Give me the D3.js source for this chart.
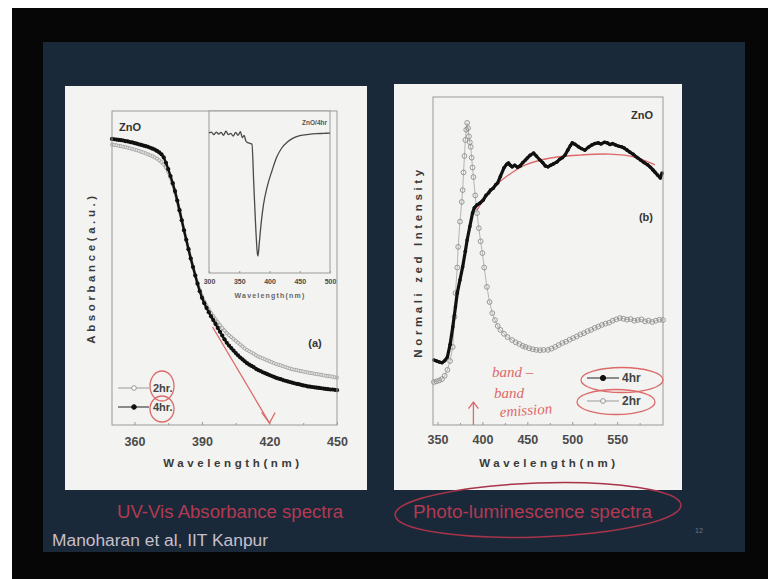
<!DOCTYPE html>
<html lang="en">
<head>
<meta charset="utf-8">
<style>
  body { margin: 0; background: #000; }
  svg { display: block; font-family: "Liberation Sans", Arial, sans-serif; }
  .frame { fill: none; stroke: #9a9a9a; stroke-width: 1; }
  .axis path { display: none; }
  .axis line { stroke: #9a9a9a; }
  .axis text { fill: #4a4a4a; font-weight: bold; font-family: "Liberation Sans", Arial, sans-serif; }
  .ttl { fill: #3a3a3a; font-weight: bold; letter-spacing: 3.6px; font-size: 11.5px; }
  .ink { fill: none; stroke: #dc6a6a; stroke-width: 1.3; }
  .hand { fill: #dc6a6a; font-family: "Liberation Serif", serif; font-style: italic; font-size: 15px; }
</style>
</head>
<body>
<svg width="768" height="579"></svg>
<script src="https://cdn.jsdelivr.net/npm/d3@7"></script>
<script>
// ---- panel (a): UV-Vis absorbance, 1 nm grid ----
const absWl = d3.range(350, 451);
const abs4hr = [
  .911,.910,.909,.908,.907,.906,.904,.903,.901,.900,
  .898,.896,.894,.892,.890,.888,.886,.883,.880,.877,
  .873,.868,.862,.852,.835,.815,.793,.770,.745,.715,
  .684,.652,.620,.590,.560,.530,.503,.476,.450,.426,
  .405,.388,.373,.359,.346,.334,.322,.309,.297,.285,
  .273,.262,.253,.245,.237,.229,.222,.215,.209,.203,
  .197,.192,.188,.184,.179,.175,.172,.168,.165,.162,
  .159,.156,.153,.150,.148,.146,.143,.141,.139,.137,
  .135,.133,.131,.130,.128,.126,.125,.123,.122,.121,
  .120,.119,.118,.117,.116,.115,.114,.113,.113,.112,
  .111];
const abs2hr = [
  .893,.892,.891,.889,.888,.886,.885,.883,.881,.879,
  .877,.875,.873,.870,.868,.865,.862,.859,.856,.852,
  .848,.843,.837,.830,.820,.806,.788,.766,.741,.713,
  .683,.652,.621,.590,.560,.531,.504,.478,.453,.430,
  .410,.394,.380,.368,.357,.347,.337,.327,.318,.309,
  .301,.293,.286,.280,.274,.268,.262,.256,.250,.244,
  .239,.235,.231,.227,.222,.218,.215,.212,.209,.206,
  .203,.200,.197,.194,.192,.190,.187,.185,.182,.180,
  .178,.176,.175,.173,.172,.170,.169,.167,.166,.165,
  .163,.162,.161,.160,.158,.157,.156,.155,.154,.152,
  .151];
const absTicks = [360, 390, 420, 450];

// inset: ZnO/4hr
const insetWl = [300,304,308,312,316,320,324,328,332,336,340,344,348,352,355,358,361,364,368,371,
  374,377,380,381,383,386,390,396,404,412,420,430,439,450,465,478,490,500];
const insetVal = [.865,.87,.855,.87,.858,.868,.85,.875,.855,.862,.845,.868,.85,.872,.835,.85,.815,.805,.80,.795,
  .55,.30,.12,.105,.18,.30,.42,.53,.63,.716,.77,.81,.833,.848,.856,.86,.862,.864];
const insetTicks = [300, 350, 400, 450, 500];

// ---- panel (b): photoluminescence ----
const pl4Wl = [346,349,352,355,358,361,364,367,370,372,375,378,381,383,386,389,391,394,397,401,
  404,407,409,412,415,417,420,424,427,429,431,433,436,439,442,445,448,450,453,457,
  460,464,467,470,473,476,479,483,486,489,492,495,498,500,503,507,510,514,518,522,
  525,529,532,536,539,542,545,548,552,555,558,561,564,568,571,573,576,580,584,587,
  590,592,595,598,600];
const pl4Val = [.198,.195,.192,.190,.196,.207,.245,.299,.360,.402,.442,.482,.530,.564,.605,.646,.662,.671,.676,.686,
  .700,.708,.716,.722,.733,.738,.758,.784,.795,.799,.792,.787,.792,.786,.790,.800,.808,.814,.822,.829,
  .820,.808,.800,.790,.787,.792,.796,.802,.810,.815,.823,.838,.852,.860,.856,.848,.843,.838,.847,.854,
  .858,.860,.857,.862,.860,.855,.858,.854,.850,.848,.844,.838,.832,.825,.818,.814,.808,.800,.793,.786,
  .777,.771,.762,.753,.768];
const pl2Wl = [346,349,352,355,358,361,364,367,369,370,372,373,375,377,378,379,380,381,382,383,
  384,385,386,387,388,389,390,392,394,396,398,400,402,405,408,411,414,417,420,424,
  428,433,437,441,445,448,452,456,460,464,468,473,477,481,485,489,493,497,501,505,
  509,513,517,521,525,529,533,537,541,545,549,553,557,561,565,569,573,577,581,585,
  589,593,597,601];
const pl2Val = [.131,.133,.136,.140,.150,.168,.195,.238,.330,.402,.480,.543,.620,.680,.716,.770,.820,.869,.900,.921,
  .905,.880,.862,.848,.815,.785,.756,.700,.646,.600,.560,.524,.480,.421,.375,.341,.320,.302,.290,.278,
  .268,.259,.252,.247,.241,.238,.234,.231,.229,.228,.229,.229,.233,.238,.244,.250,.254,.260,.265,.270,
  .276,.280,.286,.290,.296,.300,.305,.309,.312,.318,.322,.326,.324,.321,.323,.318,.320,.322,.316,.318,
  .314,.318,.321,.320];
const plTicks = [350, 400, 450, 500, 550];

const svg = d3.select("svg");

// slide background
svg.append("rect").attr("width", 768).attr("height", 579).attr("fill", "#fff");
svg.append("rect").attr("x", 12).attr("y", 8).attr("width", 756).attr("height", 571).attr("fill", "#060606");
svg.append("rect").attr("x", 43).attr("y", 42).attr("width", 702).attr("height", 510).attr("fill", "#1a2939");
svg.append("rect").attr("x", 65).attr("y", 86).attr("width", 302).attr("height", 404).attr("fill", "#f3f3f1");
svg.append("rect").attr("x", 394).attr("y", 84).attr("width", 288).attr("height", 406).attr("fill", "#f3f3f1");

// ================= panel (a) =================
const xA = d3.scaleLinear().domain([350, 450]).range([112, 337]);
const yA = d3.scaleLinear().domain([0, 1]).range([425, 111]);
const gA = svg.append("g");

const lineA = d3.line().x((d, i) => xA(absWl[i])).y(d => yA(d));

gA.append("path").datum(abs2hr).attr("d", lineA)
  .attr("fill", "none").attr("stroke", "#a8a8a8").attr("stroke-width", 3);
gA.selectAll(".m2").data(abs2hr).join("circle")
  .attr("cx", (d, i) => xA(absWl[i])).attr("cy", d => yA(d)).attr("r", 1.6)
  .attr("fill", "#e4e4e4").attr("stroke", "#9c9c9c").attr("stroke-width", 0.7);

gA.append("path").datum(abs4hr).attr("d", lineA)
  .attr("fill", "none").attr("stroke", "#111").attr("stroke-width", 2.4);
gA.selectAll(".m4").data(abs4hr).join("circle")
  .attr("cx", (d, i) => xA(absWl[i])).attr("cy", d => yA(d)).attr("r", 2.1)
  .attr("fill", "#111");

gA.append("rect").attr("class", "frame")
  .attr("x", 112).attr("y", 111).attr("width", 225).attr("height", 314);
gA.append("g").attr("class", "axis").attr("transform", "translate(0,425)")
  .call(d3.axisBottom(xA).tickValues(absTicks).tickSizeInner(-3).tickSizeOuter(0).tickPadding(12))
  .call(g => g.selectAll("text").attr("font-size", 12.5));
gA.append("g").attr("class", "axis").attr("transform", "translate(0,425)")
  .call(d3.axisBottom(xA).tickValues([375, 405, 435]).tickSizeInner(-2).tickSizeOuter(0).tickFormat(""));

gA.append("text").attr("class", "ttl").attr("x", 233).attr("y", 467)
  .attr("text-anchor", "middle").text("Wavelength(nm)");
gA.append("text").attr("class", "ttl").attr("transform", "translate(95,268) rotate(-90)")
  .attr("text-anchor", "middle").text("Absorbance(a.u.)");
gA.append("text").attr("x", 119).attr("y", 131).attr("font-weight", "bold")
  .attr("font-size", 11).attr("fill", "#333").text("ZnO");
gA.append("text").attr("x", 315).attr("y", 347).attr("font-weight", "bold")
  .attr("font-size", 11).attr("fill", "#333").attr("text-anchor", "middle").text("(a)");

// legend (a)
const legA = [{ name: "2hr.", y: 388, open: true }, { name: "4hr.", y: 407, open: false }];
const lg = gA.selectAll(".leg").data(legA).join("g").attr("transform", d => `translate(0,${d.y})`);
lg.append("line").attr("x1", 118).attr("x2", 149)
  .attr("stroke", d => d.open ? "#999" : "#222").attr("stroke-width", 1);
lg.append("circle").attr("cx", 134).attr("r", 2.3)
  .attr("fill", d => d.open ? "#fff" : "#111").attr("stroke", d => d.open ? "#999" : "#111");
lg.append("text").attr("x", 153).attr("y", 4).attr("font-size", 11).attr("font-weight", "bold")
  .attr("fill", "#444").text(d => d.name);

// inset
const xI = d3.scaleLinear().domain([300, 500]).range([209, 330]);
const yI = d3.scaleLinear().domain([0, 1]).range([273, 111]);
const gI = svg.append("g");
gI.append("rect").attr("x", 209).attr("y", 111).attr("width", 121).attr("height", 162)
  .attr("fill", "#f3f3f1").attr("stroke", "#9a9a9a");
gI.append("path").datum(insetVal)
  .attr("d", d3.line().x((d, i) => xI(insetWl[i])).y(d => yI(d)).curve(d3.curveMonotoneX))
  .attr("fill", "none").attr("stroke", "#4a4a4a").attr("stroke-width", 1.3);
gI.append("g").attr("class", "axis").attr("transform", "translate(0,273)")
  .call(d3.axisBottom(xI).tickValues(insetTicks).tickSizeInner(-2).tickSizeOuter(0).tickPadding(6))
  .call(g => g.selectAll("text").attr("font-size", 7).attr("fill", "#666"));
gI.append("text").attr("x", 270).attr("y", 298).attr("text-anchor", "middle")
  .attr("font-size", 7).attr("font-weight", "bold").attr("letter-spacing", 1.2)
  .attr("fill", "#666").text("Wavelength(nm)");
gI.append("text").attr("x", 327).attr("y", 125).attr("text-anchor", "end")
  .attr("font-size", 6.5).attr("font-weight", "bold").attr("fill", "#555").text("ZnO/4hr");

// hand marks on (a)
gA.append("ellipse").attr("class", "ink").attr("cx", 162).attr("cy", 386).attr("rx", 12).attr("ry", 15);
gA.append("ellipse").attr("class", "ink").attr("cx", 162).attr("cy", 409).attr("rx", 12).attr("ry", 13);
gA.append("line").attr("class", "ink")
  .attr("x1", xA(394.7)).attr("y1", yA(0.312)).attr("x2", xA(420)).attr("y2", yA(0.006));
gA.append("path").attr("class", "ink")
  .attr("d", `M${xA(416.5)},${yA(0.04)}L${xA(420)},${yA(0.006)}L${xA(422.5)},${yA(0.04)}`);

// ================= panel (b) =================
const xB = d3.scaleLinear().domain([345, 601]).range([433, 663]);
const yB = d3.scaleLinear().domain([0, 1]).range([425, 97]);
const gB = svg.append("g");

gB.append("path").datum(pl2Val)
  .attr("d", d3.line().x((d, i) => xB(pl2Wl[i])).y(d => yB(d)))
  .attr("fill", "none").attr("stroke", "#b5b5b5").attr("stroke-width", 1);
gB.selectAll(".p2").data(pl2Val).join("circle")
  .attr("cx", (d, i) => xB(pl2Wl[i])).attr("cy", d => yB(d)).attr("r", 2.4)
  .attr("fill", "none").attr("stroke", "#8f8f8f").attr("stroke-width", 0.9);

// red hand-drawn fit under the 4hr trace
const fitPts = [[394, .655], [409, .716], [426, .756], [448, .793], [476, .814], [509, .823], [542, .826], [570, .817], [592, .793]];
gB.append("path").attr("class", "ink")
  .attr("d", d3.line().x(d => xB(d[0])).y(d => yB(d[1])).curve(d3.curveCatmullRom)(fitPts));

gB.append("path").datum(pl4Val)
  .attr("d", d3.line().x((d, i) => xB(pl4Wl[i])).y(d => yB(d)))
  .attr("fill", "none").attr("stroke", "#111").attr("stroke-width", 3.2).attr("stroke-linejoin", "round");
gB.selectAll(".p4").data(pl4Val).join("circle")
  .attr("cx", (d, i) => xB(pl4Wl[i])).attr("cy", d => yB(d)).attr("r", 1.8).attr("fill", "#111");

gB.append("rect").attr("class", "frame")
  .attr("x", 433).attr("y", 97).attr("width", 230).attr("height", 328);
gB.append("g").attr("class", "axis").attr("transform", "translate(0,425)")
  .call(d3.axisBottom(xB).tickValues(plTicks).tickSizeInner(-3).tickSizeOuter(0).tickPadding(10))
  .call(g => g.selectAll("text").attr("font-size", 12.5));
gB.append("g").attr("class", "axis").attr("transform", "translate(0,425)")
  .call(d3.axisBottom(xB).tickValues([375, 425, 475, 525, 575]).tickSizeInner(-2).tickSizeOuter(0).tickFormat(""));

gB.append("text").attr("class", "ttl").attr("x", 549).attr("y", 467)
  .attr("text-anchor", "middle").text("Wavelength(nm)");
gB.append("text").attr("class", "ttl").attr("transform", "translate(422,262) rotate(-90)")
  .attr("text-anchor", "middle").text("Normali zed Intensity");
gB.append("text").attr("x", 653).attr("y", 119).attr("font-weight", "bold").attr("text-anchor", "end")
  .attr("font-size", 11).attr("fill", "#333").text("ZnO");
gB.append("text").attr("x", 653).attr("y", 221).attr("font-weight", "bold").attr("text-anchor", "end")
  .attr("font-size", 11).attr("fill", "#333").text("(b)");

// legend (b)
const legB = [{ name: "4hr", y: 378, open: false }, { name: "2hr", y: 401, open: true }];
const lb = gB.selectAll(".leg").data(legB).join("g").attr("transform", d => `translate(0,${d.y})`);
lb.append("line").attr("x1", 587).attr("x2", 619)
  .attr("stroke", d => d.open ? "#999" : "#222").attr("stroke-width", 1);
lb.append("circle").attr("cx", 603).attr("r", d => d.open ? 2.4 : 2.6)
  .attr("fill", d => d.open ? "#f3f3f1" : "#111").attr("stroke", d => d.open ? "#999" : "#111");
lb.append("text").attr("x", 622).attr("y", 4).attr("font-size", 12).attr("font-weight", "bold")
  .attr("fill", "#444").text(d => d.name);

// hand marks on (b)
gB.append("ellipse").attr("class", "ink").attr("cx", 622).attr("cy", 380).attr("rx", 41).attr("ry", 12.5);
gB.append("ellipse").attr("class", "ink").attr("cx", 616).attr("cy", 402).attr("rx", 39).attr("ry", 12.5);
gB.append("line").attr("class", "ink")
  .attr("x1", xB(390)).attr("y1", yB(0)).attr("x2", xB(390)).attr("y2", yB(0.07));
gB.append("path").attr("class", "ink")
  .attr("d", `M${xB(384.5)},${yB(0.05)}L${xB(390)},${yB(0.07)}L${xB(395.5)},${yB(0.05)}`);
gB.append("text").attr("class", "hand").attr("x", 492).attr("y", 377).text("band –");
gB.append("text").attr("class", "hand").attr("x", 494).attr("y", 398).text("band");
gB.append("text").attr("class", "hand").attr("x", 500).attr("y", 417)
  .attr("transform", "rotate(-4,500,417)").text("emission");

// ================= slide captions =================
svg.append("text").attr("x", 117).attr("y", 518).attr("font-size", 17.5)
  .attr("textLength", 226).attr("lengthAdjust", "spacingAndGlyphs")
  .attr("fill", "#b23a52").text("UV-Vis Absorbance spectra");
svg.append("text").attr("x", 413).attr("y", 518).attr("font-size", 17.5)
  .attr("textLength", 239).attr("lengthAdjust", "spacingAndGlyphs")
  .attr("fill", "#b23a52").text("Photo-luminescence spectra");
svg.append("ellipse").attr("cx", 538).attr("cy", 510).attr("rx", 143).attr("ry", 27)
  .attr("transform", "rotate(-2,538,510)")
  .attr("fill", "none").attr("stroke", "#a8344a").attr("stroke-width", 1.5);
svg.append("text").attr("x", 52).attr("y", 546).attr("font-size", 16)
  .attr("textLength", 216).attr("lengthAdjust", "spacingAndGlyphs")
  .attr("fill", "#c8bfca").text("Manoharan et al, IIT Kanpur");
svg.append("text").attr("x", 695).attr("y", 533).attr("font-size", 7)
  .attr("fill", "#6b7886").text("12");
</script>
</body>
</html>
